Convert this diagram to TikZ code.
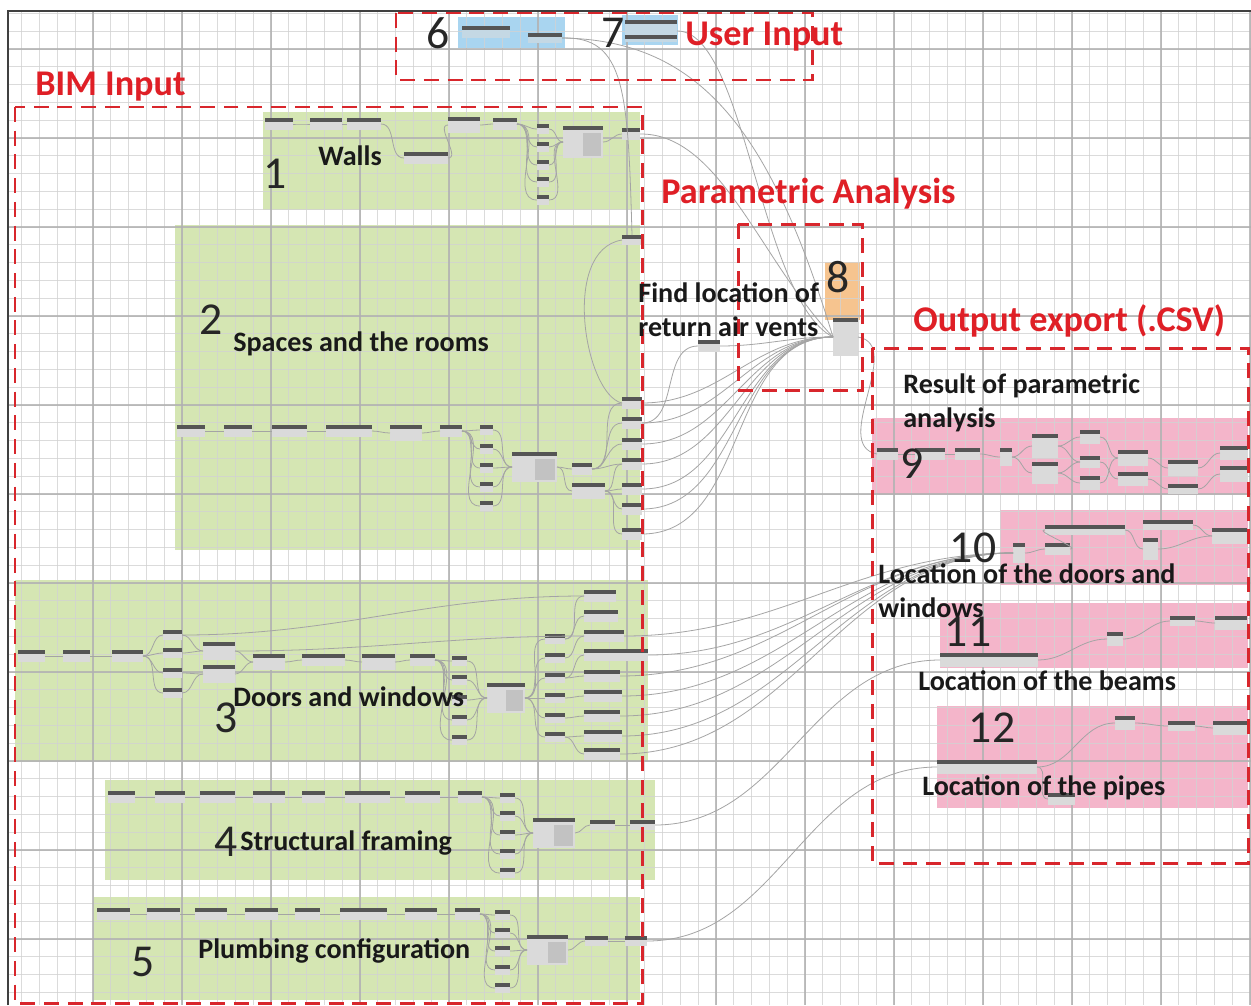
\documentclass[tikz,border=0pt]{standalone}
\usepackage{fontspec}
\setmainfont{Carlito}
\definecolor{grpgreen}{HTML}{D5E6B3}
\definecolor{grppink}{HTML}{F4B5CA}
\definecolor{grpblue}{HTML}{A9D5F0}
\definecolor{grporange}{HTML}{F6C48F}
\definecolor{redline}{HTML}{D8262C}
\definecolor{redtext}{HTML}{DF1F26}
\definecolor{bodygray}{HTML}{DADADA}
\definecolor{bodydark}{HTML}{C2C2C2}
\definecolor{bargray}{HTML}{555555}
\definecolor{wiregray}{HTML}{A4A4A4}
\definecolor{gridminor}{HTML}{D2D2D2}
\definecolor{gridmajor}{HTML}{B0B0B0}
\newcommand\dyn[5]{%
  \node[dbody,minimum width={#4*0.02cm},minimum height={#5*0.02cm}] (#1) at (#2,#3) {};
  \fill[bargray] (#2,#3) rectangle ++(#4,4);}
\newcommand\dynb[5]{%
  \node[dbody,fill=bodygray!55!grpblue,minimum width={#4*0.02cm},minimum height={#5*0.02cm}] (#1) at (#2,#3) {};
  \fill[bargray] (#2,#3) rectangle ++(#4,4);}
\newcommand\dynbig[5]{%
  \node[dbody,minimum width={#4*0.02cm},minimum height={#5*0.02cm}] (#1) at (#2,#3) {};
  \fill[bodydark] ({#2+#4/2},{#3+7}) rectangle ({#2+#4-2},{#3+#5-2});
  \fill[bargray] (#2,#3) rectangle ++(#4,4);}
\newcommand\dynwire[2]{\draw[wire] (#1.east) to[out=0,in=180] (#2.west);}
\tikzset{
  dbody/.style={anchor=north west,fill=bodygray,inner sep=0pt,outer sep=0pt,draw=none},
  wire/.style={draw=wiregray,line width=0.45pt},
  redbox/.style={draw=redline,line width=1.7pt,dash pattern=on 8.5pt off 5pt},
  lbl/.style={anchor=base west,inner sep=0pt,font=\bfseries\fontsize{16}{19}\selectfont,text=black!90},
  ttl/.style={anchor=base west,inner sep=0pt,font=\bfseries\fontsize{20.6}{24}\selectfont,text=redtext},
  num/.style={anchor=center,inner sep=0pt,font=\fontsize{26}{30}\selectfont,text=black!85},
}
\begin{document}
\begin{tikzpicture}[x=0.02cm,y=-0.02cm]
\useasboundingbox (0,0) rectangle (1251,1005);
\fill[white] (0,0) rectangle (1251,1005);
% ---------- groups ----------
\fill[grpblue] (458,17) rectangle (565,48);
\fill[grpblue] (622,15) rectangle (678,45);
\fill[grpgreen] (263,112) rectangle (640,210);
\fill[grpgreen] (175,225) rectangle (640,550);
\fill[grpgreen] (15,580) rectangle (648,762);
\fill[grpgreen] (105,780) rectangle (655,880);
\fill[grpgreen] (93,897) rectangle (640,1000);
\fill[grporange] (825,262) rectangle (860,320);
\fill[grppink] (872,418) rectangle (1248,495);
\fill[grppink] (1000,510) rectangle (1248,585);
\fill[grppink] (940,603) rectangle (1248,668);
\fill[grppink] (937,706) rectangle (1248,808);
% ---------- grid ----------
\begin{scope}
\clip (8,11) rectangle (1251,1005);
\foreach \k in {0,...,70} {\draw[gridminor,opacity=0.8,line width=0.4pt] ({4+17.8*\k},11) -- ++(0,994);}
\foreach \k in {0,...,57} {\draw[gridminor,opacity=0.8,line width=0.4pt] (8,{13.4+17.8*\k}) -- ++(1243,0);}
\foreach \k in {0,...,14} {\draw[gridmajor,opacity=0.8,line width=0.6pt] ({4+89*\k},11) -- ++(0,994);}
\foreach \k in {0,...,10} {\draw[gridmajor,opacity=0.8,line width=0.6pt] (8,{49+89*\k}) -- ++(1243,0);}
\end{scope}
\draw[line width=1pt,black!75] (8,1005) -- (8,11) -- (1251,11);
% ---------- user input nodes ----------
\dynb{u6a}{462}{26}{48}{12}
\dynb{u6b}{528}{33}{34}{10}
\dynb{u7}{625}{20}{52}{22}
\fill[bargray] (625,35) rectangle ++(52,4);
% ---------- walls ----------
\dyn{w1}{265}{118}{28}{12}
\dyn{w2}{310}{118}{32}{12}
\dyn{w3}{347}{118}{34}{12}
\dyn{w4}{404}{152}{44}{12}
\dyn{w5}{448}{117}{32}{16}
\dyn{w6}{493}{118}{24}{12}
\foreach \i/\y in {1/124,2/142,3/160,4/177,5/195} {\dyn{wc\i}{537}{\y}{12}{10}}
\dynbig{w7}{563}{126}{40}{32}
\dyn{w8}{622}{128}{18}{12}
% ---------- spaces ----------
\dyn{s0}{622}{235}{20}{10}
\dyn{s1}{177}{425}{28}{12}
\dyn{s2}{224}{425}{28}{12}
\dyn{s3}{272}{425}{35}{12}
\dyn{s4}{326}{425}{46}{12}
\dyn{s5}{390}{425}{32}{16}
\dyn{s6}{440}{425}{22}{12}
\foreach \i/\y in {1/425,2/444,3/463,4/482,5/501} {\dyn{sc\i}{480}{\y}{13}{10}}
\dynbig{s7}{512}{452}{45}{30}
\dyn{s8}{572}{463}{20}{12}
\dyn{s9}{572}{483}{33}{16}
\foreach \i/\y in {1/397,2/417,3/438,4/458,5/483,6/503,7/528} {\dyn{sr\i}{622}{\y}{20}{12}}
% ---------- doors and windows ----------
\dyn{d1}{18}{650}{27}{12}
\dyn{d2}{63}{650}{27}{12}
\dyn{d3}{112}{650}{31}{12}
\foreach \i/\y in {1/630,2/648,3/668,4/688} {\dyn{dc\i}{163}{\y}{19}{10}}
\dyn{d4}{203}{642}{32}{18}
\dyn{d5}{203}{665}{32}{18}
\dyn{d6}{253}{654}{32}{16}
\dyn{d7}{302}{654}{43}{12}
\dyn{d8}{362}{654}{33}{16}
\dyn{d9}{410}{654}{25}{12}
\foreach \i/\y in {1/656,2/675,3/695,4/715,5/735} {\dyn{dd\i}{452}{\y}{15}{10}}
\dynbig{d10}{487}{683}{38}{30}
\foreach \i/\y in {1/634,2/653,3/673,4/693,5/713,6/732} {\dyn{de\i}{545}{\y}{20}{10}}
\foreach \i/\y/\w in {1/590/32,2/610/34,3/630/40,4/649/64,5/670/36,6/690/38,7/710/36,8/730/38,9/748/36} {\dyn{df\i}{584}{\y}{\w}{12}}
% ---------- structural framing ----------
\foreach \i/\x/\w in {1/108/27,2/155/30,3/200/35,4/253/32,5/302/23,6/345/45,7/405/35,8/458/24} {\dyn{f\i}{\x}{791}{\w}{12}}
\foreach \i/\y in {1/793,2/811,3/830,4/849,5/868} {\dyn{fc\i}{500}{\y}{15}{10}}
\dynbig{f9}{533}{818}{42}{30}
\dyn{f10}{590}{820}{25}{10}
\dyn{f11}{630}{820}{25}{10}
% ---------- plumbing ----------
\foreach \i/\x/\w in {1/97/33,2/147/33,3/195/32,4/245/33,5/295/25,6/340/47,7/405/32,8/455/25} {\dyn{p\i}{\x}{908}{\w}{12}}
\foreach \i/\y in {1/910,2/928,3/946,4/965,5/983} {\dyn{pc\i}{495}{\y}{15}{10}}
\dynbig{p9}{527}{935}{41}{30}
\dyn{p10}{585}{936}{23}{10}
\dyn{p11}{625}{936}{22}{10}
% ---------- parametric analysis ----------
\dyn{r1}{698}{340}{22}{12}
\dyn{g8}{833}{318}{25}{38}
% ---------- output 9 ----------
\dyn{n1}{877}{448}{21}{12}
\dyn{n2}{915}{448}{30}{12}
\dyn{n3}{955}{448}{25}{12}
\dyn{n4}{1000}{448}{12}{18}
\dyn{n5}{1032}{434}{26}{24}
\dyn{n6}{1032}{462}{26}{22}
\dyn{n7}{1080}{430}{20}{14}
\dyn{n8}{1080}{456}{20}{12}
\dyn{n9}{1080}{476}{20}{14}
\dyn{n10}{1118}{450}{30}{16}
\dyn{n11}{1118}{472}{30}{14}
\dyn{n12}{1168}{460}{30}{16}
\dyn{n13}{1168}{484}{30}{10}
\dyn{n14}{1220}{446}{28}{14}
\dyn{n15}{1220}{466}{28}{16}
% ---------- output 10 ----------
\dyn{t1}{1013}{543}{12}{20}
\dyn{t2}{1045}{543}{25}{12}
\dyn{t3}{1045}{525}{80}{10}
\dyn{t4}{1143}{520}{50}{10}
\dyn{t5}{1143}{538}{15}{22}
\dyn{t6}{1212}{528}{35}{16}
% ---------- output 11 ----------
\dyn{b1}{940}{653}{98}{14}
\dyn{b2}{1107}{632}{16}{14}
\dyn{b3}{1170}{616}{25}{10}
\dyn{b4}{1215}{616}{32}{14}
% ---------- output 12 ----------
\dyn{q1}{937}{760}{100}{14}
\dyn{q2}{1115}{716}{20}{14}
\dyn{q3}{1168}{721}{27}{10}
\dyn{q4}{1213}{721}{34}{14}
\dyn{q5}{1048}{793}{27}{12}
% ---------- wires ----------
\dynwire{w1}{w2}\dynwire{w2}{w3}\dynwire{w3}{w4}\dynwire{w4}{w5}\dynwire{w5}{w6}
\foreach \i in {1,...,5} {\dynwire{w6}{wc\i}\dynwire{wc\i}{w7}}
\dynwire{w7}{w8}
\dynwire{s1}{s2}\dynwire{s2}{s3}\dynwire{s3}{s4}\dynwire{s4}{s5}\dynwire{s5}{s6}
\foreach \i in {1,...,5} {\dynwire{s6}{sc\i}\dynwire{sc\i}{s7}}
\dynwire{s7}{s8}\dynwire{s7}{s9}
\foreach \i in {1,...,4} {\dynwire{s8}{sr\i}}
\foreach \i in {4,...,7} {\dynwire{s9}{sr\i}}
\draw[wire] (s0.west) .. controls (560,250) and (585,395) .. (sr1.west);
\dynwire{d1}{d2}\dynwire{d2}{d3}
\foreach \i in {1,...,4} {\dynwire{d3}{dc\i}}
\dynwire{dc1}{d4}\dynwire{dc2}{d4}\dynwire{dc3}{d5}\dynwire{dc4}{d5}
\dynwire{d4}{d6}\dynwire{d5}{d6}\dynwire{d6}{d7}\dynwire{d7}{d8}\dynwire{d8}{d9}
\foreach \i in {1,...,5} {\dynwire{d9}{dd\i}\dynwire{dd\i}{d10}}
\foreach \i in {1,...,6} {\dynwire{d10}{de\i}}
\dynwire{de1}{df1}\dynwire{de1}{df2}\dynwire{de2}{df3}\dynwire{de3}{df4}\dynwire{de3}{df5}
\dynwire{de4}{df6}\dynwire{de5}{df7}\dynwire{de6}{df8}\dynwire{de6}{df9}
\dynwire{dc1}{df1}\dynwire{d4}{df3}
\foreach \a/\b in {1/2,2/3,3/4,4/5,5/6,6/7,7/8} {\dynwire{f\a}{f\b}\dynwire{p\a}{p\b}}
\foreach \i in {1,...,5} {\dynwire{f8}{fc\i}\dynwire{fc\i}{f9}\dynwire{p8}{pc\i}\dynwire{pc\i}{p9}}
\dynwire{f9}{f10}\dynwire{f10}{f11}\dynwire{p9}{p10}\dynwire{p10}{p11}
\draw[wire] (u6b.east) .. controls (625,36) and (628,90) .. (s0.north);
\draw[wire] (u6b.east) .. controls (700,40) and (770,130) .. (g8.west);
\draw[wire] (u7.east) .. controls (745,30) and (760,300) .. (g8.west);
\draw[wire] (w8.east) .. controls (720,133) and (760,260) .. (g8.west);
\foreach \i in {1,...,7} {\draw[wire] (sr\i.east) to[out=0,in=180] (g8.west);}
\dynwire{sr2}{r1}\dynwire{r1}{g8}
\draw[wire] (g8.east) .. controls (905,345) and (830,445) .. (n1.west);
\dynwire{n1}{n2}\dynwire{n2}{n3}\dynwire{n3}{n4}\dynwire{n4}{n5}\dynwire{n4}{n6}
\dynwire{n5}{n7}\dynwire{n5}{n8}\dynwire{n6}{n9}\dynwire{n6}{n8}
\dynwire{n7}{n10}\dynwire{n8}{n11}\dynwire{n9}{n10}
\dynwire{n10}{n12}\dynwire{n11}{n13}\dynwire{n12}{n14}\dynwire{n13}{n15}
\foreach \i in {3,...,9} {\draw[wire] (df\i.east) to[out=0,in=180] (t1.west);}
\dynwire{t1}{t2}\dynwire{t2}{t3}\dynwire{t3}{t5}\dynwire{t5}{t6}\dynwire{t4}{t6}
\dynwire{f11}{b1}\dynwire{b1}{b2}\dynwire{b2}{b3}\dynwire{b3}{b4}
\dynwire{p11}{q1}\dynwire{q1}{q2}\dynwire{q2}{q3}\dynwire{q3}{q4}\dynwire{q1}{q5}
% ---------- red dashed boxes ----------
\draw[redbox] (396,13) rectangle (812,80);
\draw[redbox] (15,107) rectangle (642,1003);
\draw[redbox] (738,224) rectangle (862,390);
\draw[redbox] (872,348) rectangle (1248,863);
% ---------- titles ----------
\node[ttl] (tUser) at (685,45) {User Input};
\node[ttl] (tBim) at (35,95) {BIM Input};
\node[ttl] (tPar) at (661,203) {Parametric Analysis};
\node[ttl] (tOut) at (913,331) {Output export (.CSV)};
% ---------- labels ----------
\node[lbl] (lWalls) at (318,165) {Walls};
\node[lbl] (lSpaces) at (233,351) {Spaces and the rooms};
\node[lbl] (lFind1) at (638,302) {Find location of};
\node[lbl] (lFind2) at (638,336) {return air vents};
\node[lbl] (lRes1) at (903,393) {Result of parametric};
\node[lbl] (lRes2) at (903,427) {analysis};
\node[lbl] (lDoor1) at (878,583) {Location of the doors and};
\node[lbl] (lDoor2) at (878,617) {windows};
\node[lbl] (lBeam) at (918,690) {Location of the beams};
\node[lbl] (lPipe) at (922,795) {Location of the pipes};
\node[lbl] (lDW) at (233,706) {Doors and windows};
\node[lbl] (lSF) at (240,850) {Structural framing};
\node[lbl] (lPC) at (198,958) {Plumbing configuration};
% ---------- numbers ----------
\node[num] (n6lab) at (438,33) {6};
\node[num] (n7lab) at (613,33) {7};
\node[num] (n1lab) at (275,174) {1};
\node[num] (n2lab) at (211,320) {2};
\node[num] (n3lab) at (226,718) {3};
\node[num] (n4lab) at (226,842) {4};
\node[num] (n5lab) at (143,962) {5};
\node[num] (n8lab) at (838,277) {8};
\node[num] (n9lab) at (912,464) {9};
\node[num] (n10lab) at (973,548) {10};
\node[num] (n11lab) at (968,632) {11};
\node[num] (n12lab) at (992,728) {12};
\end{tikzpicture}
\end{document}
